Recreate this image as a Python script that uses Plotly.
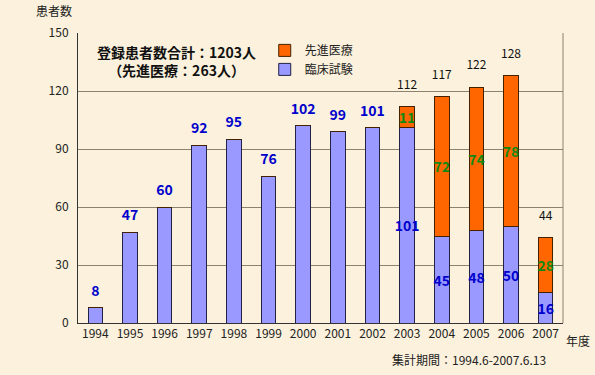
import plotly.graph_objects as go

years = ["1994", "1995", "1996", "1997", "1998", "1999", "2000", "2001",
         "2002", "2003", "2004", "2005", "2006", "2007"]
clinical = [8, 47, 60, 92, 95, 76, 102, 99, 101, 101, 45, 48, 50, 16]
advanced = [0, 0, 0, 0, 0, 0, 0, 0, 0, 11, 72, 74, 78, 28]
y_ticks = [0, 30, 60, 90, 120, 150]

totals = [c + a for c, a in zip(clinical, advanced)]
FONT = "Noto Sans CJK JP"
BG = "#FBF1DC"

clin_text = [str(c) if a > 0 else "" for c, a in zip(clinical, advanced)]
adv_text = [str(a) if a > 0 else "" for a in advanced]

fig = go.Figure()
fig.add_trace(go.Bar(
    x=years, y=clinical, name="臨床試験",
    marker=dict(color="#9999FF", line=dict(color="#222244", width=1)),
    text=clin_text, textposition="inside", insidetextanchor="middle",
    constraintext="none",
    textfont=dict(color="#0000CC", size=14, family=FONT, weight="bold"),
    textangle=0, width=0.42,
))
fig.add_trace(go.Bar(
    x=years, y=advanced, name="先進医療",
    marker=dict(color="#FF6600", line=dict(color="#442200", width=1)),
    text=adv_text, textposition="inside", insidetextanchor="middle",
    constraintext="none",
    textfont=dict(color="#118811", size=14, family=FONT, weight="bold"),
    textangle=0, width=0.42,
))

# totals: blue bold for clinical-only years, black for stacked years
xs_b = [y for y, a in zip(years, advanced) if a == 0]
ys_b = [t for t, a in zip(totals, advanced) if a == 0]
xs_k = [y for y, a in zip(years, advanced) if a > 0]
ys_k = [t for t, a in zip(totals, advanced) if a > 0]
fig.add_trace(go.Scatter(
    x=xs_b, y=ys_b, mode="markers+text", text=[str(v) for v in ys_b],
    marker=dict(size=12, color="rgba(0,0,0,0)"), hoverinfo="skip",
    textposition="top center", showlegend=False, cliponaxis=False,
    textfont=dict(color="#0000CC", size=14, family=FONT, weight="bold"),
))
fig.add_trace(go.Scatter(
    x=xs_k, y=ys_k, mode="markers+text", text=[str(v) for v in ys_k],
    marker=dict(size=22, color="rgba(0,0,0,0)"), hoverinfo="skip",
    textposition="top center", showlegend=False, cliponaxis=False,
    textfont=dict(color="#111111", size=12, family=FONT),
))

fig.update_layout(
    width=595, height=375,
    margin=dict(l=78, r=32, t=33, b=52, autoexpand=False),
    barmode="stack",
    paper_bgcolor=BG, plot_bgcolor=BG,
    font=dict(family=FONT, size=12, color="#222222"),
    showlegend=True,
    legend=dict(x=0.385, y=0.99, xanchor="left", yanchor="top",
                traceorder="reversed", bgcolor="rgba(0,0,0,0)",
                font=dict(size=12, family=FONT), itemwidth=30,
                tracegroupgap=0),
    xaxis=dict(showline=True, linecolor="#333333", linewidth=1,
               range=[-0.5, len(years) - 0.5],
               mirror=False, ticks="", tickfont=dict(size=12),
               showgrid=False, automargin=False),
    yaxis=dict(range=[0, 150], tickvals=y_ticks, showline=True,
               linecolor="#333333", linewidth=1, ticks="",
               showgrid=True, gridcolor="#8C8270", gridwidth=1,
               tickfont=dict(size=12), zeroline=False,
               ticklabelstandoff=6, automargin=False),
    shapes=[
        dict(type="line", xref="paper", yref="paper", x0=1, x1=1, y0=0, y1=1,
             line=dict(color="#8C8270", width=1)),
    ],
    annotations=[
        dict(text="患者数", xref="paper", yref="paper", x=-0.05, y=1.04,
             xanchor="center", yanchor="bottom", showarrow=False,
             font=dict(size=12)),
        dict(text="年度", xref="paper", yref="paper", x=1.003, y=-0.025,
             xanchor="left", yanchor="top", showarrow=False,
             font=dict(size=12)),
        dict(text="集計期間：1994.6-2007.6.13", xref="paper", yref="paper",
             x=0.97, y=-0.09, xanchor="right", yanchor="top",
             showarrow=False, font=dict(size=12)),
        dict(text="<b>登録患者数合計：1203人</b><br><b>（先進医療：263人）</b>",
             xref="paper", yref="paper", x=0.035, y=0.975, xanchor="left",
             yanchor="top", showarrow=False, align="center",
             font=dict(size=14, color="#111111")),
    ],
)

fig.write_html(
    "out.html",
    config={"displayModeBar": False},
    post_script="document.body.style.margin='0';"
                "document.body.style.background='" + BG + "';",
)
